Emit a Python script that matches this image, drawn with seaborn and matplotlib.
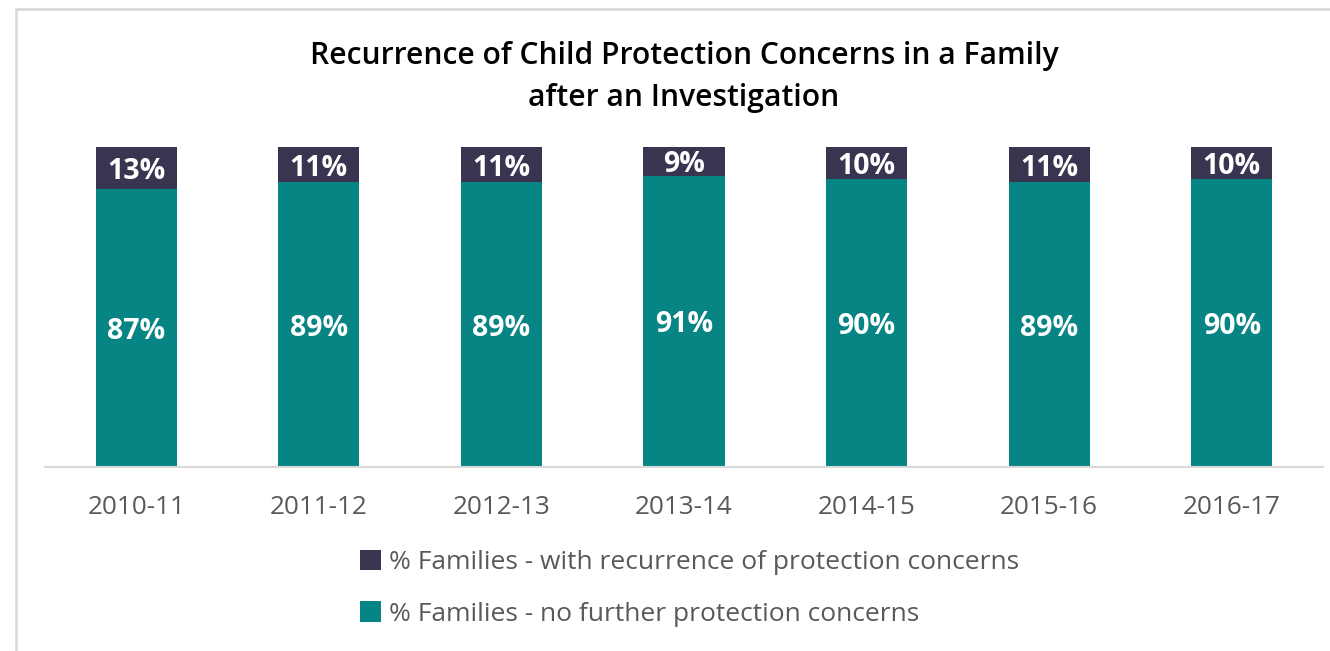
import pandas as pd
import matplotlib.pyplot as plt
import seaborn as sns
from matplotlib.patches import Patch
from matplotlib.lines import Line2D

# chart data
years = ['2010-11', '2011-12', '2012-13', '2013-14', '2014-15', '2015-16', '2016-17']
recurrence = [13, 11, 11, 9, 10, 11, 10]
no_further = [87, 89, 89, 91, 90, 89, 90]

DARK = '#393450'
TEAL = '#078584'
GRID = '#d9d9d9'

df = pd.DataFrame({'year': years, 'recurrence': recurrence, 'no_further': no_further})
df['total'] = df['recurrence'] + df['no_further']

sns.set_theme(style='white')
plt.rcParams['font.family'] = ['Open Sans', 'DejaVu Sans']

fig = plt.figure(figsize=(13.3, 6.51), dpi=100)
ax = fig.add_axes([45 / 1330, 1 - 467 / 651, (1323 - 45) / 1330, (467 - 147) / 651])

# stacked bars: dark total behind, teal bottom part in front
sns.barplot(data=df, x='year', y='total', color=DARK, width=0.445, saturation=1,
            linewidth=0, edgecolor='none', ax=ax)
sns.barplot(data=df, x='year', y='no_further', color=TEAL, width=0.445, saturation=1,
            linewidth=0, edgecolor='none', ax=ax)

# value labels centred in each segment
for i, (lo, hi) in enumerate(zip(no_further, recurrence)):
    ax.text(i, lo / 2, f'{lo}%', ha='center', va='center_baseline',
            color='white', fontsize=20.5, fontweight='bold')
    ax.text(i, lo + hi / 2, f'{hi}%', ha='center', va='center_baseline',
            color='white', fontsize=20.5, fontweight='bold')

ax.set_xlim(-0.5, len(years) - 0.5)
ax.set_ylim(0, 100)
ax.set_xlabel('')
ax.set_ylabel('')
ax.set_yticks([])
for s in ['top', 'right', 'left']:
    ax.spines[s].set_visible(False)
ax.spines['bottom'].set_color(GRID)
ax.spines['bottom'].set_linewidth(1.5)
ax.tick_params(axis='x', length=0, pad=20, labelsize=18.8, labelcolor='#595959')

fig.text(684 / 1330, 1 - 77 / 651,
         'Recurrence of Child Protection Concerns in a Family\nafter an Investigation',
         ha='center', va='center', fontsize=21.6, fontweight='semibold',
         color='black', linespacing=1.5)

handles = [Patch(facecolor=DARK, edgecolor='none'), Patch(facecolor=TEAL, edgecolor='none')]
labels = ['% Families - with recurrence of protection concerns',
          '% Families - no further protection concerns']
fig.legend(handles, labels, loc='upper left', bbox_to_anchor=(336 / 1330, 1 - 526 / 651),
           frameon=False, fontsize=19, labelcolor='#595959', handlelength=0.8,
           handleheight=0.8, handletextpad=0.3, labelspacing=1.0)

# outer border (top and left edges visible)
fig.add_artist(Line2D([16 / 1330, 16 / 1330], [0, 1 - 9 / 651], color=GRID, lw=2))
fig.add_artist(Line2D([16 / 1330, 1], [1 - 9 / 651, 1 - 9 / 651], color=GRID, lw=2))

fig.savefig('out.png', dpi=100)
